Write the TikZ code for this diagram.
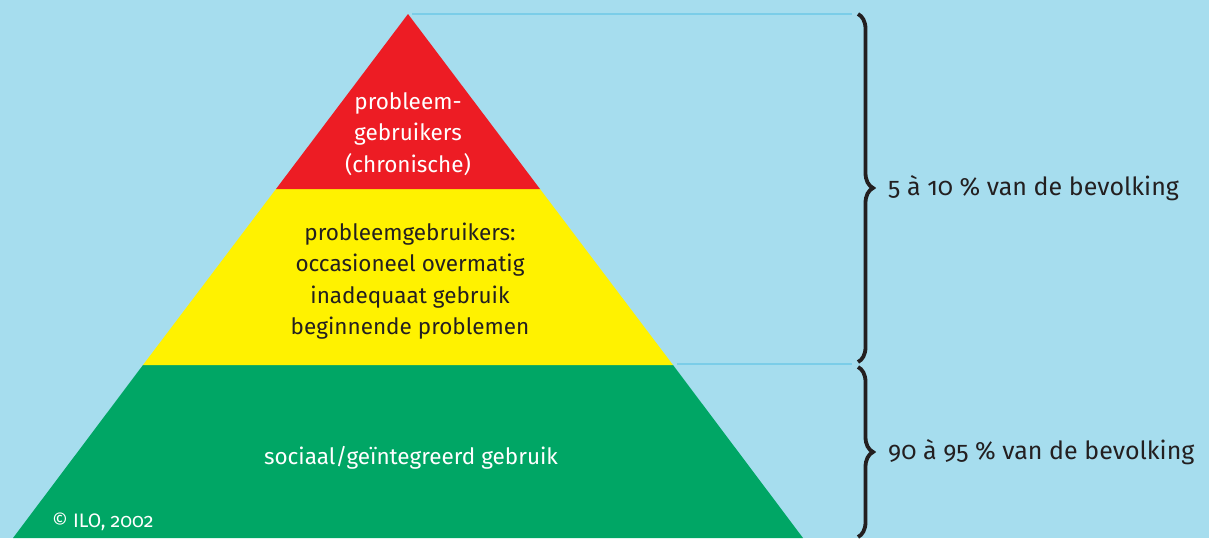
\documentclass[tikz,border=0pt]{standalone}
\usepackage{fontspec}
\setmainfont[Numbers=OldStyle]{Fira Sans}
\usetikzlibrary{decorations.pathreplacing, positioning}

\definecolor{bgblue}{HTML}{A6DDEE}
\definecolor{lineblue}{HTML}{7BCDE8}
\definecolor{topred}{HTML}{ED1C24}
\definecolor{midyellow}{HTML}{FFF200}
\definecolor{basegreen}{HTML}{00A665}
\definecolor{txtgray}{HTML}{231F20}

\begin{document}
\begin{tikzpicture} [x = 1pt, y = -1pt,
	lbl/.style = {align = center, inner sep = 0pt, font = \fontsize{22.5}{31.5}\selectfont},
	side/.style = {anchor = west, inner sep = 0pt, text = txtgray, font = \fontsize{25}{28}\selectfont},
	guide/.style = {draw = lineblue, line width = 2.5pt},
	bracket/.style = {decorate, decoration = {brace, amplitude = 15pt}, draw = txtgray, line width = 3.8pt}]

\fill [bgblue] (0,0) rectangle (1209,538);
\useasboundingbox (0,0) rectangle (1209,538);
\clip (0,0) rectangle (1209,538);

% pyramid corners
\coordinate (apex) at (408,14);
\coordinate (rL) at (276,189);
\coordinate (rR) at (540,189);
\coordinate (yL) at (143,365);
\coordinate (yR) at (673,365);
\coordinate (gL) at (13,538);
\coordinate (gR) at (803,538);

\fill [basegreen] (yL) -- (yR) -- (gR) -- (gL) -- cycle;
\fill [midyellow] (rL) -- (rR) -- (yR) -- (yL) -- cycle;
\fill [topred] (apex) -- (rR) -- (rL) -- cycle;

\node (chron) [lbl, text = white] at (408,134) {probleem-\\gebruikers\\(chronische)};
\node (occas) [lbl, text = txtgray] at (410,281) {probleemgebruikers:\\occasioneel overmatig\\inadequaat gebruik\\beginnende problemen};
\node (sociaal) [lbl, text = white] at (411,458) {sociaal/geïntegreerd gebruik};
\node (ilo) [anchor = west, inner sep = 0pt, text = white, font = \fontsize{19.5}{22}\selectfont] at (52,522) {© ILO, 2002};

% guide lines and braces
\coordinate (topEnd) at (852,14);
\coordinate (midStart) at (677,364);
\coordinate (midEnd) at (852,364);
\coordinate (b1top) at (858,14);
\coordinate (b1bot) at (858,362);
\coordinate (b2top) at (858,367);
\coordinate (b2bot) at (858,537);

\draw [guide] ([xshift = 4pt] apex) -- (topEnd);
\draw [guide] (midStart) -- (midEnd);
\draw [bracket] (b1top) -- (b1bot);
\draw [bracket] (b2top) -- (b2bot);

\node (minder) [side] at (888,188) {5 à 10 \% van de bevolking};
\node (meer) [side] at (888,452) {90 à 95 \% van de bevolking};
\end{tikzpicture}
\end{document}
